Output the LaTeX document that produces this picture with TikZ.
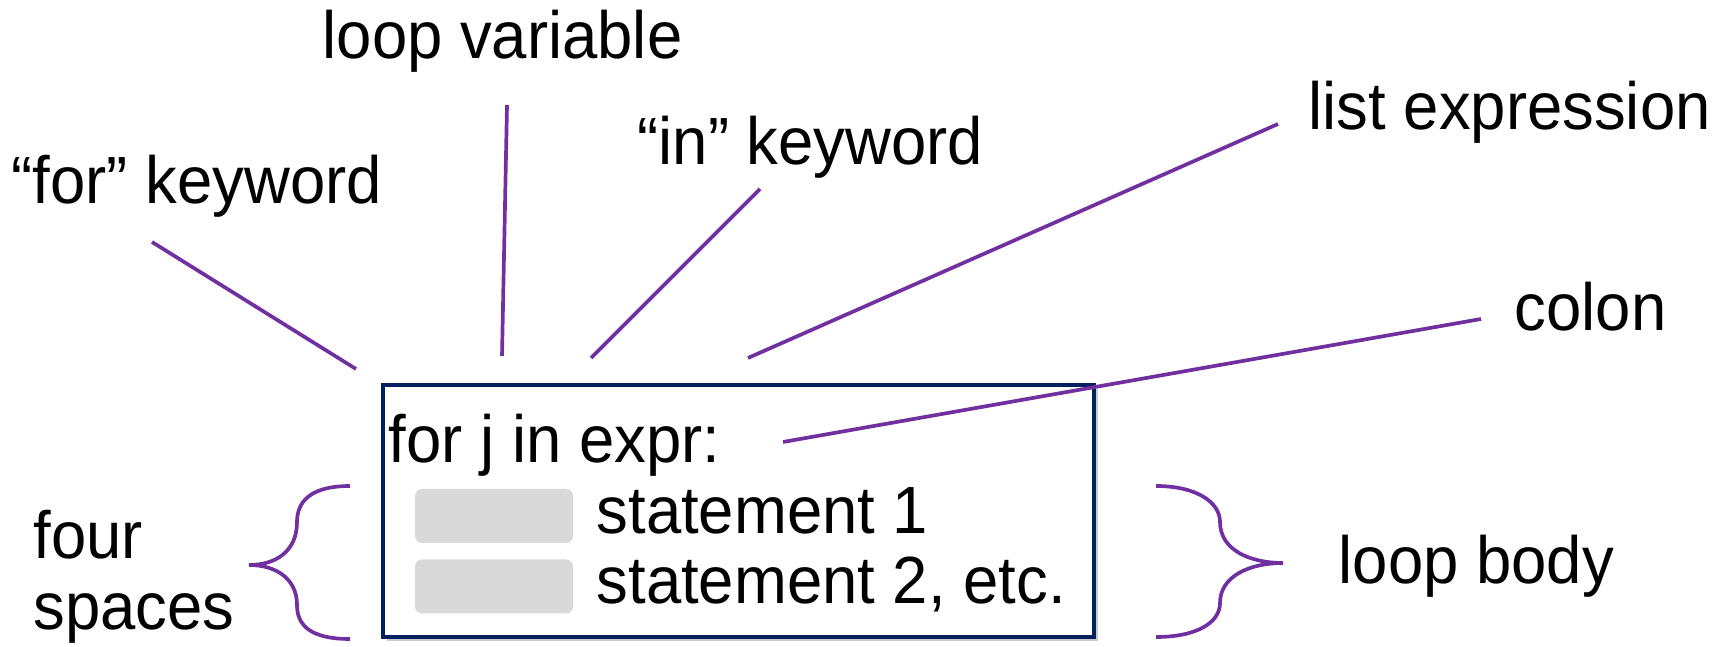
\documentclass[tikz,border=0pt]{standalone}
\usepackage{fontspec}
\setmainfont[FakeStretch=0.95]{Liberation Sans}
\usepackage{tikz}
\definecolor{pointer}{HTML}{7030A0}
\definecolor{frame}{HTML}{002060}
\definecolor{indent}{HTML}{D9D9D9}

\begin{document}
\begin{tikzpicture}[
    txt/.style={inner sep=0pt, anchor=base west, font=\fontsize{19pt}{23pt}\selectfont},
    ptr/.style={draw=pointer, line width=1.05pt},
    gap/.style={fill=indent, rounded corners=2pt, minimum width=1.58cm, minimum height=0.54cm, inner sep=0pt}]
    \useasboundingbox (0, 0) rectangle (17.27, 6.47);
    % code box
    \fill [gray!40] (3.87, 0.06) rectangle (10.98, 2.58);
    \node [draw=frame, fill=white, line width=1.3pt, minimum width=7.11cm, minimum height=2.52cm, inner sep=0pt] (box) at (7.385, 1.36) {};
    \node [gap] (g1) at (4.94, 1.31) {};
    \node [gap] (g2) at (4.94, 0.605) {};
    \node [txt] (c0) at (3.88, 1.845) {for j in expr:};
    \node [txt] (c1) at (5.96, 1.13) {statement 1};
    \node [txt] (c2) at (5.96, 0.435) {statement 2, etc.};
    % labels
    \node [txt] (l0) at (0.11, 4.43) {“for” keyword};
    \node [txt] (l1) at (3.22, 5.88) {loop variable};
    \node [txt] (l2) at (6.37, 4.82) {“in” keyword};
    \node [txt] (l3) at (13.08, 5.17) {list expression};
    \node [txt] (l4) at (15.14, 3.16) {colon};
    \node [txt] (l5) at (0.33, 0.88) {four};
    \node [txt] (l6) at (0.33, 0.17) {spaces};
    \node [txt] (l7) at (13.38, 0.63) {loop body};
    % line ends
    \node (0) at (1.52, 4.05) {};
    \node (1) at (3.56, 2.78) {};
    \node (2) at (5.07, 5.42) {};
    \node (3) at (5.02, 2.91) {};
    \node (4) at (7.60, 4.58) {};
    \node (5) at (5.91, 2.89) {};
    \node (6) at (12.78, 5.23) {};
    \node (7) at (7.48, 2.89) {};
    \node (8) at (14.81, 3.28) {};
    \node (9) at (7.83, 2.05) {};
    % edges
    \draw [ptr] (0.center) to (1.center);
    \draw [ptr] (2.center) to (3.center);
    \draw [ptr] (4.center) to (5.center);
    \draw [ptr] (6.center) to (7.center);
    \draw [ptr] (8.center) to (9.center);
    % braces
    \draw [ptr] (3.50, 1.61) .. controls (3.10, 1.61) and (2.97, 1.45) .. (2.97, 1.25)
        .. controls (2.97, 0.95) and (2.75, 0.82) .. (2.49, 0.82)
        .. controls (2.75, 0.82) and (2.97, 0.69) .. (2.97, 0.42)
        .. controls (2.97, 0.22) and (3.10, 0.08) .. (3.50, 0.08);
    \draw [ptr] (11.56, 1.61) .. controls (11.96, 1.61) and (12.20, 1.45) .. (12.20, 1.25)
        .. controls (12.20, 0.97) and (12.50, 0.84) .. (12.83, 0.84)
        .. controls (12.50, 0.84) and (12.20, 0.71) .. (12.20, 0.44)
        .. controls (12.20, 0.24) and (11.96, 0.10) .. (11.56, 0.10);
\end{tikzpicture}
\end{document}
